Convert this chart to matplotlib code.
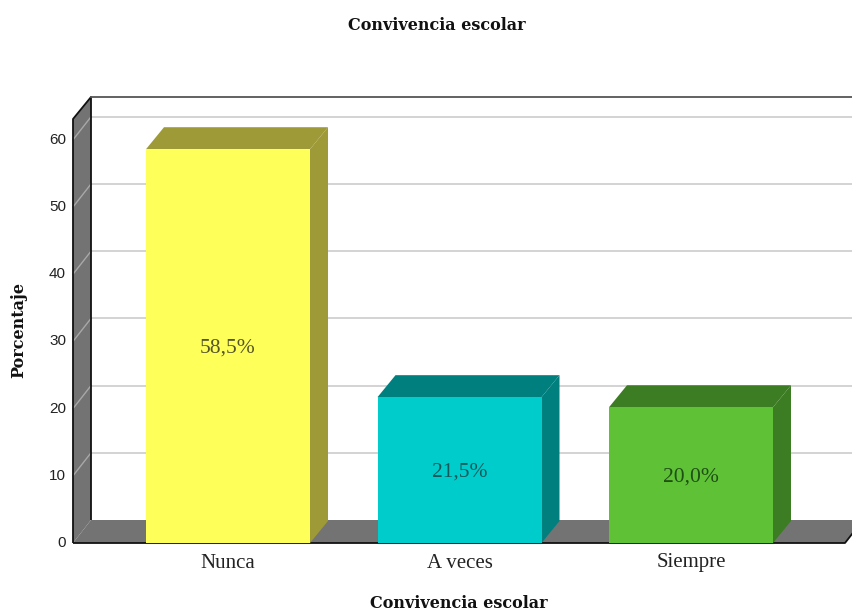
import matplotlib
matplotlib.use("Agg")
import matplotlib.pyplot as plt
from matplotlib.patches import Polygon, Rectangle

categories = ["Nunca", "A veces", "Siempre"]
values = [58.6, 21.7, 20.2]
labels = ["58,5%", "21,5%", "20,0%"]
front_colors = ["#FFFF5A", "#00CCCC", "#5FC136"]
shade_colors = ["#9E9A38", "#007F7F", "#3C7C22"]
label_colors = ["#55552A", "#145A5A", "#1E4F14"]
y_ticks = [0, 10, 20, 30, 40, 50, 60]
title = "Convivencia escolar"
x_label = "Convivencia escolar"
y_label = "Porcentaje"

W, H = 853, 614
fig = plt.figure(figsize=(W / 100, H / 100), dpi=100)
ax = fig.add_axes([73 / W, (H - 543) / H, 772 / W, 424 / H])
px_x, px_y = 231.5, 6.72
ax.set_xlim(-155 / px_x, (845 - 228) / px_x)
ax.set_ylim(0, 424 / px_y)
ax.axis("off")

dx, dy = 18 / px_x, 22 / px_y
grid_dy = 23 / px_y
xmin, xmax = ax.get_xlim()
ymax = ax.get_ylim()[1]
WALL = "#737373"
OUT = dict(clip_on=False)

# back plane
ax.add_patch(Rectangle((xmin + dx, dy), xmax - xmin + 1, ymax, fc="white", ec="none", zorder=0, **OUT))
# floor and left wall
ax.add_patch(Polygon([(xmin, 0), (xmax, 0), (xmax + dx, grid_dy), (xmin + dx, grid_dy)], fc=WALL, ec="none", zorder=1, **OUT))
ax.add_patch(Polygon([(xmin, 0), (xmin + dx, grid_dy), (xmin + dx, ymax + dy), (xmin, ymax)], fc=WALL, ec="none", zorder=1, **OUT))

# gridlines
for t in y_ticks[1:]:
    ax.plot([xmin + dx, xmax + 2 * dx], [t + grid_dy, t + grid_dy], color="#C8C8C8", lw=1.1, zorder=1, **OUT)
    ax.plot([xmin, xmin + dx], [t, t + grid_dy], color="#A8A8A8", lw=1.0, zorder=2, **OUT)

# outlines
line = dict(color="#111111", lw=1.3, zorder=3, clip_on=False, solid_capstyle="butt")
ax.plot([xmin, xmin, xmin + dx, xmin + dx], [0, ymax, ymax + dy, grid_dy], **line)
ax.plot([xmin + dx, xmax + 2 * dx], [ymax + dy, ymax + dy], color="#555555", lw=1.3, zorder=3, **OUT)
ax.plot([xmin, xmax, xmax + dx], [0, 0, grid_dy], **line)

# bars
hw = 82 / px_x
for i, (v, fc, sc, lab, lc) in enumerate(zip(values, front_colors, shade_colors, labels, label_colors)):
    l, r = i - hw, i + hw
    ax.add_patch(Polygon([(r, 0), (r + dx, dy), (r + dx, v + dy), (r, v)], fc=sc, ec="none", zorder=4, **OUT))
    ax.add_patch(Polygon([(l, v), (l + dx, v + dy), (r + dx, v + dy), (r, v)], fc=sc, ec="none", zorder=4, **OUT))
    ax.add_patch(Rectangle((l, 0), r - l, v, fc=fc, ec="none", zorder=5, **OUT))
    ax.text(i, v / 2 - 2 / px_y, lab, ha="center", va="center", family="Liberation Serif",
            fontsize=15.5, color=lc, zorder=6)
    ax.text(i, -20 / px_y, categories[i], ha="center", va="center", family="Liberation Serif",
            fontsize=15, color="#222222")

# tick labels
for t in y_ticks:
    ax.text(xmin - 7 / px_x, t, str(t), ha="right", va="center", family="Liberation Sans",
            fontsize=11, color="#222222")

fig.text(437 / W, 1 - 25 / H, title, ha="center", va="center", family="DejaVu Serif",
         fontweight="bold", fontsize=11.5, color="#111111")
fig.text(459 / W, 1 - 604 / H, x_label, ha="center", va="center", family="DejaVu Serif",
         fontweight="bold", fontsize=11.5, color="#111111")
fig.text(19 / W, 1 - 330 / H, y_label, ha="center", va="center", rotation=90,
         family="DejaVu Serif", fontweight="bold", fontsize=11.5, color="#111111")

fig.savefig("out.png", dpi=100)
